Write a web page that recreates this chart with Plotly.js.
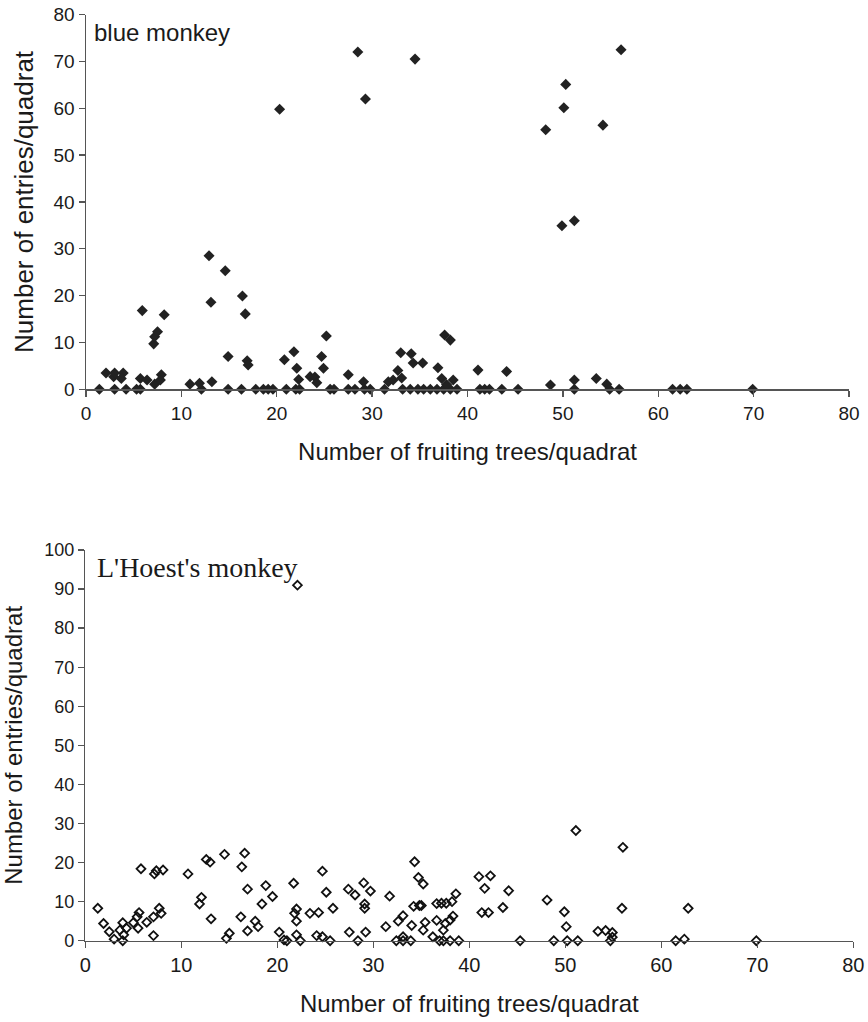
<!DOCTYPE html>
<html>
<head>
<meta charset="utf-8">
<script src="https://cdn.plot.ly/plotly-3.0.1.min.js"></script>
<style>html,body{margin:0;padding:0;background:#fff;}#chart{width:868px;height:1022px;}</style>
</head>
<body>
<div id="chart"></div>
<script>
// Blue monkey: number of fruiting trees / quadrat (x) vs entries / quadrat (y)
var blueX = [1.4,3.0,4.2,5.3,5.7,12.1,14.9,16.3,17.8,18.6,19.1,19.6,21.0,22.0,22.4,25.6,26.0,27.5,28.2,29.2,29.8,31.3,33.2,34.0,34.8,35.4,36.1,36.8,37.5,38.2,38.9,41.3,41.8,42.3,43.6,45.3,51.2,54.9,55.9,61.5,62.3,63.0,69.9,
  2.1,2.9,3.0,3.9,3.7,5.9,5.7,6.4,7.2,7.1,7.2,7.5,7.9,7.8,8.2,10.9,11.9,12.9,13.1,13.2,14.6,14.9,16.4,16.7,16.9,17.0,
  20.3,20.8,21.8,22.1,22.3,23.5,24.0,24.2,24.7,24.9,25.2,27.5,28.5,29.1,29.3,31.7,32.2,32.7,33.1,33.0,34.1,34.3,34.5,35.3,
  36.9,37.3,37.6,38.2,38.5,37.8,41.1,44.1,48.2,48.7,49.9,50.1,50.3,51.2,51.2,53.5,54.2,54.6,56.1];
var blueY = [0,0,0,0,0,0,0,0,0,0,0,0,0,0,0,0,0,0,0,0,0,0,0,0,0,0,0,0,0,0,0,0,0,0,0,0,0,0,0,0,0,0,0,
  3.5,2.7,3.5,3.5,2.3,16.8,2.3,2.0,1.1,9.7,11.2,12.3,3.1,2.0,15.9,1.1,1.3,28.5,18.6,1.6,25.3,7.0,19.9,16.1,6.1,5.2,
  59.8,6.3,8.0,4.5,2.1,2.7,2.6,1.4,7.0,4.5,11.4,3.1,72.0,1.6,62.0,1.6,2.0,4.0,2.4,7.8,7.6,5.6,70.5,5.6,
  4.6,2.3,11.6,10.5,2.0,1.0,4.1,3.8,55.4,0.9,34.9,60.1,65.1,36.0,2.0,2.3,56.4,1.1,72.5];

// L'Hoest's monkey
var lhoestX = [1.3,1.9,2.5,3.0,3.6,3.9,3.9,4.0,4.3,5.0,5.4,5.6,5.5,5.8,6.4,7.1,7.1,7.2,7.4,7.7,7.9,8.1,
  10.7,11.9,12.1,12.6,13.0,13.1,14.5,14.7,15.0,16.3,16.2,16.6,16.9,16.9,17.7,18.0,18.4,18.8,19.5,
  20.2,20.7,21.0,21.7,21.8,22.0,22.0,22.0,22.4,22.1,23.4,24.1,24.3,24.7,24.7,25.1,25.5,25.8,27.4,27.5,28.1,28.4,29.0,29.1,29.1,29.2,29.7,
  31.3,31.7,32.4,32.6,33.1,33.1,33.1,33.9,34.0,34.3,34.2,34.7,34.8,35.0,35.2,35.4,35.2,36.2,36.6,36.6,36.9,
  37.1,37.6,38.2,38.6,37.3,37.5,38.0,38.3,37.3,38.0,38.9,
  41.0,42.2,41.6,44.1,41.3,42.0,43.5,45.3,48.1,48.8,49.9,50.1,50.2,51.3,51.1,53.4,54.2,54.9,54.9,54.7,56.0,55.9,61.5,62.4,62.8,69.9];
var lhoestY = [8.3,4.4,2.3,0.4,2.7,4.6,0,1.5,3.2,4.6,6.1,7.2,3.2,18.4,4.7,6.1,1.3,17.1,17.9,8.3,7.0,18.1,
  17.1,9.4,11.1,20.8,20.1,5.6,22.1,0.6,1.9,18.9,6.1,22.4,13.2,2.5,5.0,3.6,9.4,14.1,11.3,
  2.2,0.2,0,14.7,7.0,8.1,5.0,1.5,0,91.0,7.0,1.3,7.2,17.8,1.0,12.4,0,8.3,13.2,2.2,11.7,0,14.8,9.4,8.3,2.2,12.7,
  3.6,11.4,0,5.0,6.4,1.0,0,0,3.9,20.2,8.8,16.2,9.0,9.0,14.5,4.7,2.7,1.0,9.5,5.2,0,
  9.6,9.6,10.0,12.0,2.7,4.4,5.3,6.3,0,0,0,
  16.4,16.6,13.4,12.8,7.2,7.2,8.5,0,10.4,0,7.4,3.6,0,0,28.2,2.4,2.6,2.1,0.9,0,23.9,8.3,0,0.4,8.3,0];

var xTicks = [0,10,20,30,40,50,60,70,80];
var yTicksTop = [0,10,20,30,40,50,60,70,80];
var yTicksBottom = [0,10,20,30,40,50,60,70,80,90,100];

var panelTitles = ["blue monkey", "L'Hoest's monkey"];
var xTitle = "Number of fruiting trees/quadrat";
var yTitle = "Number of entries/quadrat";

var W = 868, H = 1022;
var sans = "Liberation Sans, Arial, sans-serif";

function ax(extra) {
  var base = {
    showline: true, linecolor: '#555', linewidth: 1.5,
    ticks: 'outside', ticklen: 6, tickwidth: 1.3, tickcolor: '#555',
    showgrid: false, zeroline: false, fixedrange: true,
    tickfont: {family: sans, size: 19, color: '#1a1a1a'},
    automargin: false
  };
  for (var k in extra) base[k] = extra[k];
  return base;
}

var traces = [
  {x: blueX, y: blueY, type: 'scatter', mode: 'markers', xaxis: 'x', yaxis: 'y', cliponaxis: false,
   marker: {symbol: 'diamond', size: 8.5, color: '#222', line: {width: 0}}},
  {x: lhoestX, y: lhoestY, type: 'scatter', mode: 'markers', xaxis: 'x2', yaxis: 'y2', cliponaxis: false,
   marker: {symbol: 'diamond-open', size: 6.8, color: '#111', line: {width: 1.8, color: '#111'}}}
];

var layout = {
  width: W, height: H,
  margin: {l: 0, r: 0, t: 0, b: 0},
  paper_bgcolor: '#fff', plot_bgcolor: '#fff',
  showlegend: false,
  xaxis: ax({domain: [86/W, 849/W], range: [0, 80], tickvals: xTicks, anchor: 'y',
    title: {text: xTitle, font: {family: sans, size: 24, color: '#1a1a1a'}, standoff: 20}}),
  yaxis: ax({domain: [1 - 389.3/H, 1 - 14.6/H], range: [0, 80], tickvals: yTicksTop, anchor: 'x',
    title: {text: yTitle, font: {family: sans, size: 26, color: '#1a1a1a'}, standoff: 12}}),
  xaxis2: ax({domain: [85.3/W, 853.3/W], range: [0, 80], tickvals: xTicks, anchor: 'y2',
    tickfont: {family: sans, size: 20, color: '#1a1a1a'},
    title: {text: xTitle, font: {family: sans, size: 24, color: '#1a1a1a'}, standoff: 20}}),
  yaxis2: ax({domain: [1 - 940.7/H, 1 - 550/H], range: [0, 100], tickvals: yTicksBottom, anchor: 'x2',
    tickfont: {family: sans, size: 18, color: '#1a1a1a'},
    title: {text: yTitle, font: {family: sans, size: 24, color: '#1a1a1a'}, standoff: 14}}),
  annotations: [
    {text: panelTitles[0], xref: 'paper', yref: 'paper', x: 92/W, y: 1 - 33/H, xanchor: 'left', yanchor: 'middle',
     showarrow: false, font: {family: sans, size: 24, color: '#1a1a1a'}},
    {text: panelTitles[1], xref: 'paper', yref: 'paper', x: 95/W, y: 1 - 567/H, xanchor: 'left', yanchor: 'middle',
     showarrow: false, font: {family: "Liberation Serif, Times New Roman, serif", size: 28, color: '#1a1a1a'}}
  ]
};

Plotly.newPlot('chart', traces, layout, {displayModeBar: false, staticPlot: true});
</script>
</body>
</html>
